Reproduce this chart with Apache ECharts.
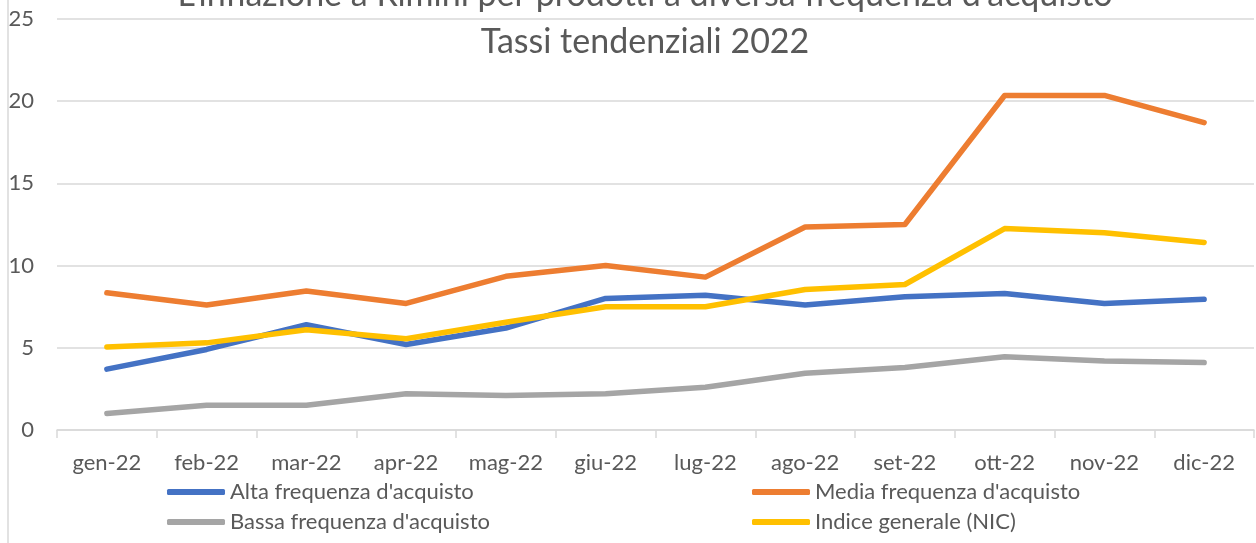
<!DOCTYPE html>
<html><head><meta charset="utf-8">
<script src="https://cdn.jsdelivr.net/npm/echarts@6/dist/echarts.min.js"></script>
<style>html,body{margin:0;padding:0;background:#fff}#c{width:1256px;height:543px}</style>
</head><body><div id="c"></div>
<script>
const categories = ['gen-22','feb-22','mar-22','apr-22','mag-22','giu-22','lug-22','ago-22','set-22','ott-22','nov-22','dic-22'];
const alta  = [3.7, 4.9, 6.4, 5.2, 6.2, 8.0, 8.2, 7.6, 8.1, 8.3, 7.7, 7.95];
const media = [8.35, 7.6, 8.45, 7.7, 9.35, 10.0, 9.3, 12.35, 12.5, 20.35, 20.35, 18.7];
const bassa = [1.0, 1.5, 1.5, 2.2, 2.1, 2.2, 2.6, 3.45, 3.8, 4.45, 4.2, 4.1];
const nic   = [5.05, 5.3, 6.1, 5.55, 6.55, 7.5, 7.5, 8.55, 8.85, 12.25, 12.0, 11.4];
const names = ["Alta frequenza d'acquisto","Media frequenza d'acquisto","Bassa frequenza d'acquisto","Indice generale (NIC)"];
const colors = ['#4472C4','#ED7D31','#A5A5A5','#FFC000'];
const FONT = 'Lato';
const chart = echarts.init(document.getElementById('c'));
const mk = (i, d) => ({name: names[i], type:'line', data:d, symbol:'none', smooth:false,
  lineStyle:{color:colors[i], width:5.5, cap:'round', join:'round'}, itemStyle:{color:colors[i]}, z: 2+i});
chart.setOption({
  animation:false,
  color: colors,
  graphic:[{type:'line', shape:{x1:8,y1:0,x2:8,y2:543}, style:{stroke:'#d9d9d9', lineWidth:1.5}}],
  title:[
    {text:"L'inflazione a Rimini per prodotti a diversa frequenza d'acquisto", left:640, textAlign:'center', top:-27,
     textStyle:{fontFamily:FONT, fontSize:34, fontWeight:'normal', color:'#595959'}},
    {text:'Tassi tendenziali 2022', left:640, textAlign:'center', top:20,
     textStyle:{fontFamily:FONT, fontSize:34, fontWeight:'normal', color:'#595959'}}
  ],
  legend:[
    {data:[names[0], names[2]], orient:'vertical', left:162, top:476, itemGap:8, itemWidth:58, itemHeight:6, icon:'roundRect',
     textStyle:{fontFamily:FONT, fontSize:22, color:'#595959'}},
    {data:[names[1], names[3]], orient:'vertical', left:747, top:476, itemGap:8, itemWidth:58, itemHeight:6, icon:'roundRect',
     textStyle:{fontFamily:FONT, fontSize:22, color:'#595959'}}
  ],
  grid:{left:57, right:2, top:19, bottom:113, containLabel:false},
  xAxis:{type:'category', data:categories, boundaryGap:true,
    axisLine:{lineStyle:{color:'#d9d9d9', width:1.5}},
    axisTick:{show:true, length:8, lineStyle:{color:'#d9d9d9', width:1.5}},
    axisLabel:{fontFamily:FONT, fontSize:22, color:'#595959', margin:22}},
  yAxis:{type:'value', min:0, max:25, interval:5,
    axisLine:{show:false}, axisTick:{show:false},
    splitLine:{lineStyle:{color:'#d9d9d9', width:1.5}},
    axisLabel:{fontFamily:FONT, fontSize:22, color:'#595959', margin:23}},
  series:[mk(0,alta), mk(1,media), mk(2,bassa), mk(3,nic)]
});
</script></body></html>
